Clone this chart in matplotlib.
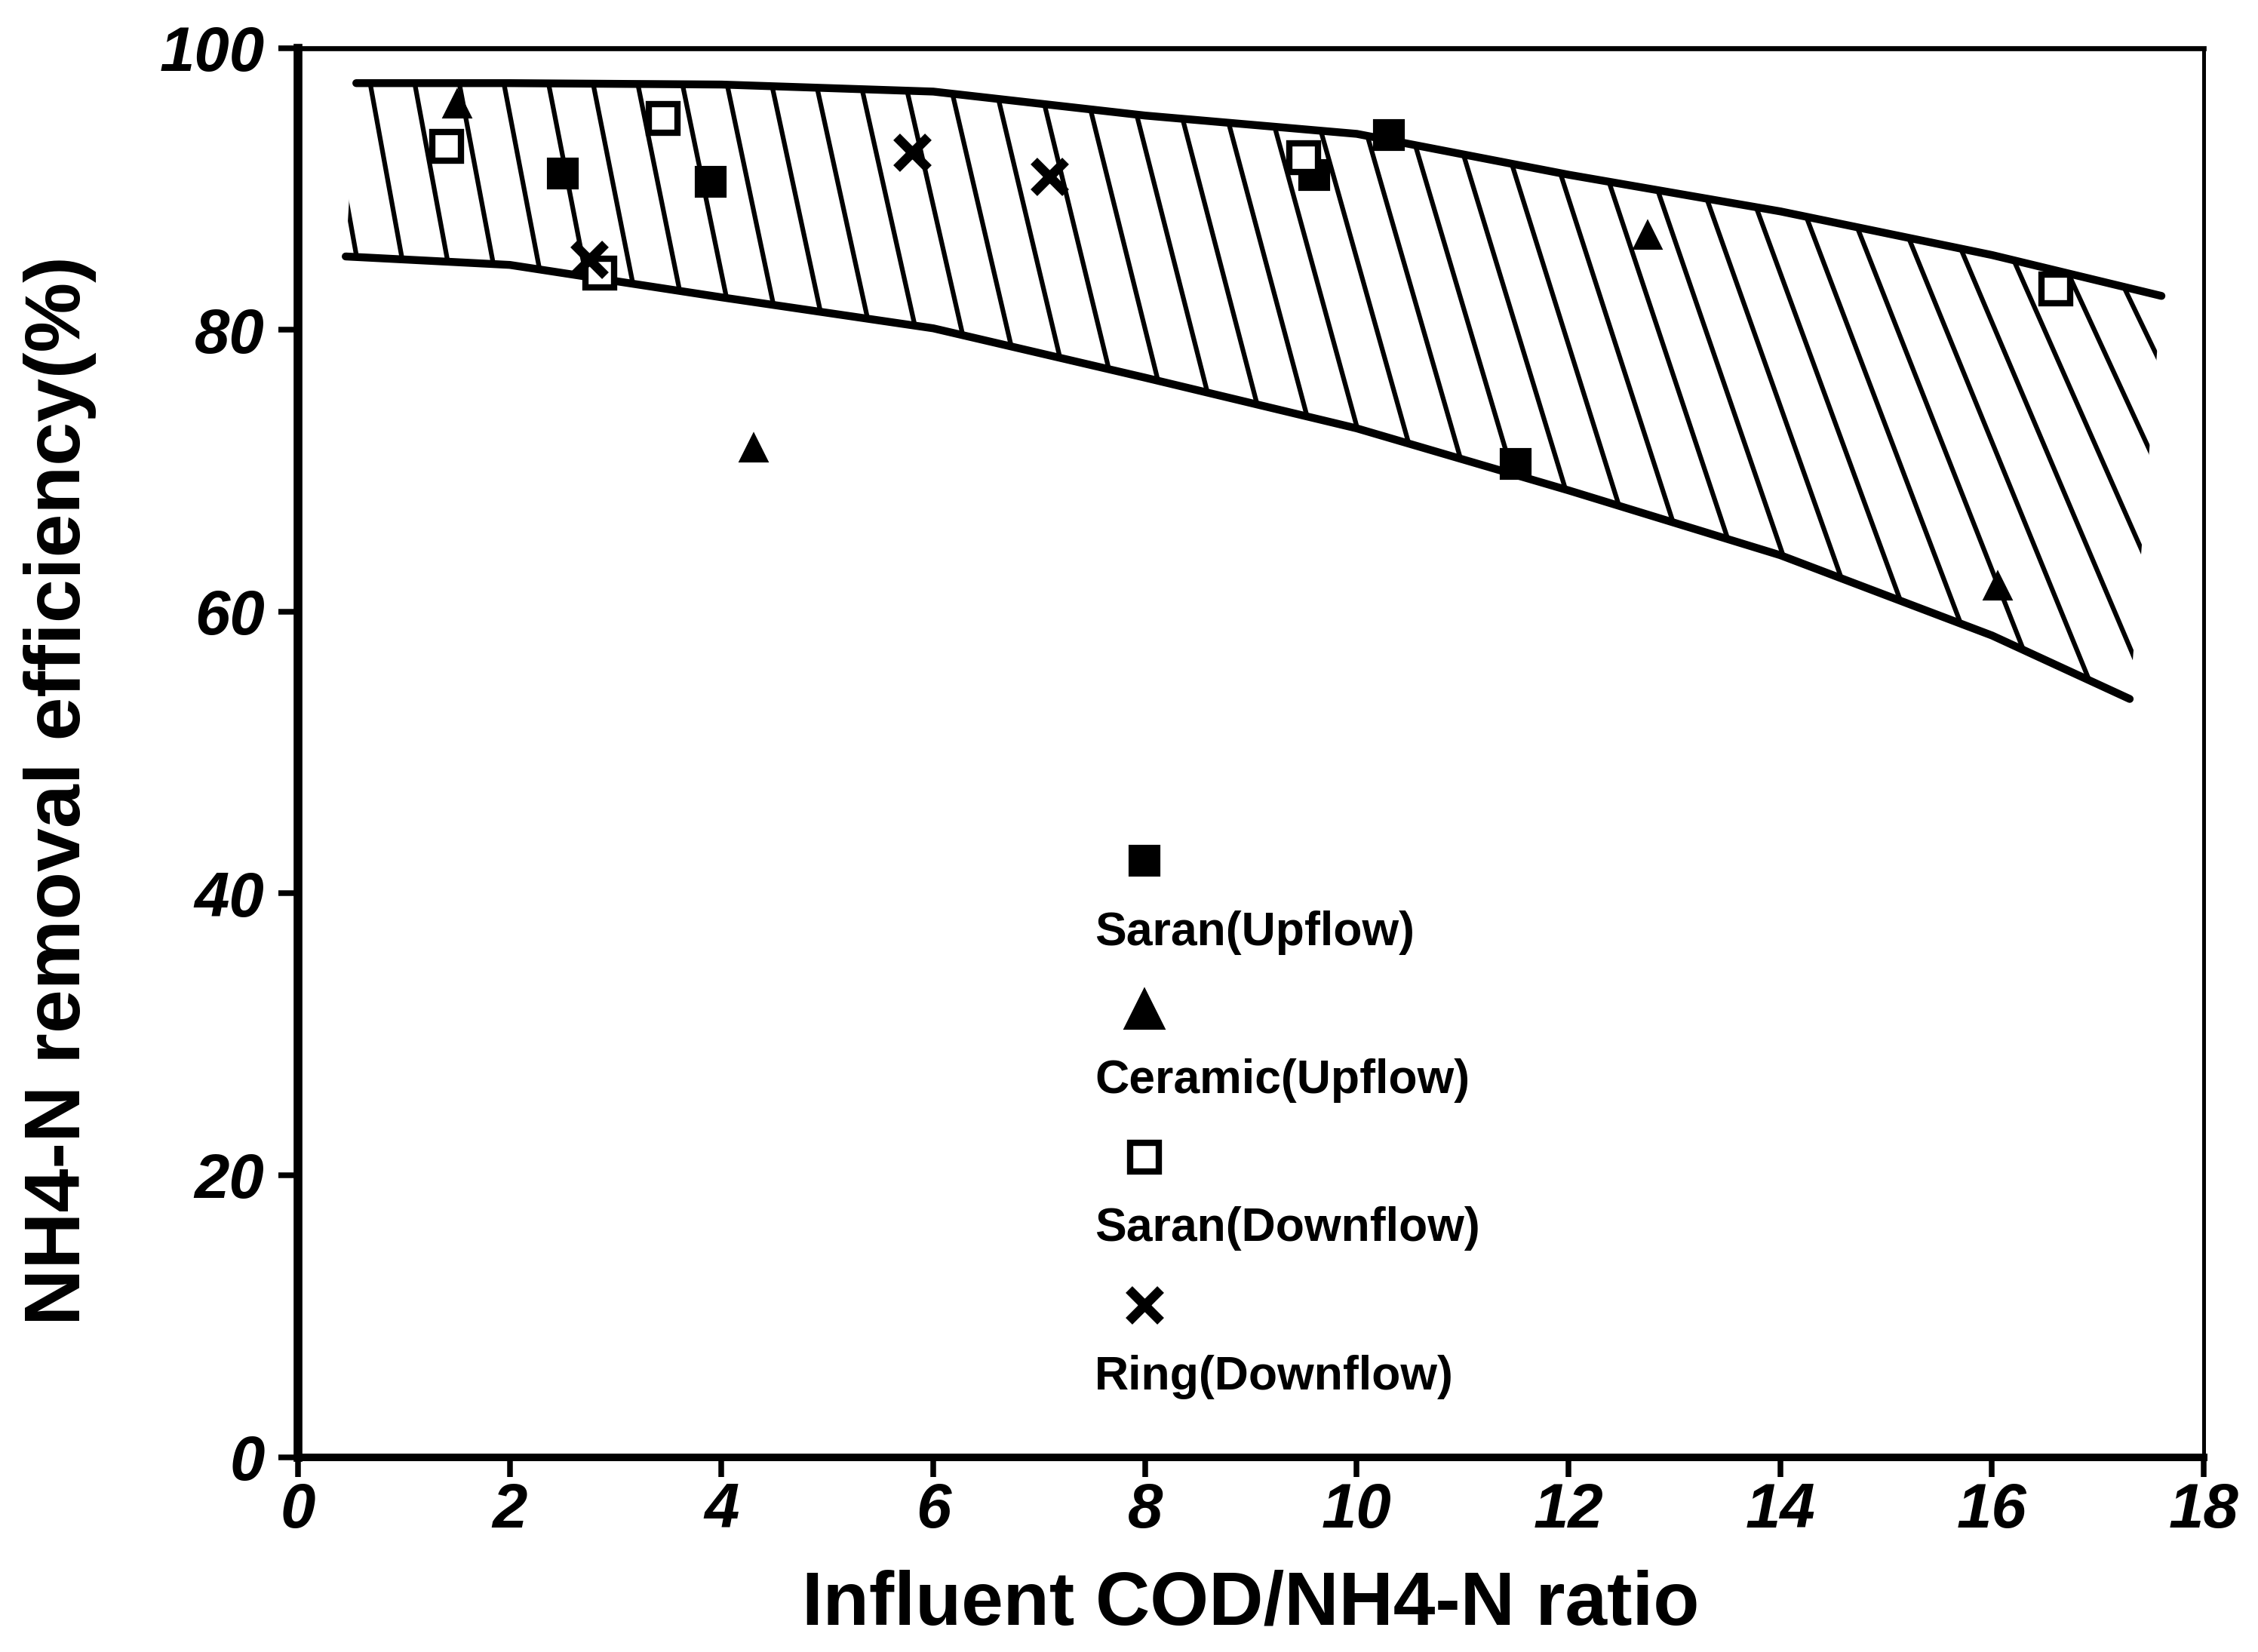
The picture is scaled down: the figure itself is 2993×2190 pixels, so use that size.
import numpy as np
import matplotlib
matplotlib.use("Agg")
import matplotlib.pyplot as plt
from matplotlib.patches import Polygon

plt.rcParams['font.family'] = ['Liberation Sans', 'DejaVu Sans']
plt.rcParams['font.weight'] = 'bold'

# data
saran_up_x = [2.5, 3.9, 9.6, 10.3, 11.5]
saran_up_y = [91.1, 90.5, 91.0, 93.8, 70.5]
ceramic_up_x = [1.5, 4.3, 12.75, 16.05]
ceramic_up_y = [96.0, 71.6, 86.7, 61.8]
saran_down_x = [1.4, 2.85, 3.45, 9.5, 16.6]
saran_down_y = [93.0, 84.0, 95.0, 92.2, 82.9]
ring_down_x = [2.75, 5.8, 7.1]
ring_down_y = [85.0, 92.6, 90.9]

# band limits
upper_x = [0.55, 2, 4, 6, 8, 10, 12, 14, 16, 17.6]
upper_y = [97.5, 97.5, 97.4, 96.9, 95.2, 93.9, 91.0, 88.4, 85.3, 82.4]
lower_x = [0.45, 2, 4, 6, 8, 10, 12, 14, 16, 17.3]
lower_y = [85.2, 84.6, 82.3, 80.1, 76.6, 73.0, 68.6, 64.0, 58.3, 53.8]

labels = ['Saran(Upflow)', 'Ceramic(Upflow)', 'Saran(Downflow)', 'Ring(Downflow)']

fig = plt.figure(figsize=(2993 / 300, 2190 / 300), dpi=300)
ax = fig.add_axes([0.132, 0.118, 0.844, 0.853])
ax.set_xlim(0, 18)
ax.set_ylim(0, 100)

# hatched band (hand-drawn look: lines lean more towards the right)
verts = list(zip(upper_x, upper_y)) + list(zip(lower_x[::-1], lower_y[::-1]))
band = Polygon(verts, closed=True, facecolor='none', edgecolor='none')
ax.add_patch(band)
for x0 in np.arange(0.2, 18.2, 0.42):
    ratio = max(5.2 - 0.22 * (x0 - 2), 1.8)   # pixel dy/dx of the stroke
    s = ratio * 7.5                           # in data units
    ln, = ax.plot([x0, x0 + 100 / s], [100, 0], color='black', lw=1.5)
    ln.set_clip_path(band)
ax.plot(upper_x, upper_y, color='black', lw=2.5, solid_capstyle='round')
ax.plot(lower_x, lower_y, color='black', lw=2.5, solid_capstyle='round')

# data points
ax.plot(saran_up_x, saran_up_y, 's', color='black', ms=9, zorder=5)
ax.plot(ceramic_up_x, ceramic_up_y, '^', color='black', ms=8, zorder=5)
ax.plot(saran_down_x, saran_down_y, 's', mfc='white', mec='black', mew=2, ms=9, zorder=5)
ax.plot(ring_down_x, ring_down_y, 'x', color='black', mew=3, ms=10, zorder=5)

# legend: marker above label
styles = [dict(marker='s', color='black', ms=9),
          dict(marker='^', color='black', ms=12),
          dict(marker='s', mfc='white', mec='black', mew=2, ms=9),
          dict(marker='x', color='black', mew=3, ms=10)]
for i, (lab, st) in enumerate(zip(labels, styles)):
    y0 = 0.423 - i * 0.105
    ax.plot([0.444], [y0], transform=ax.transAxes, ls='none', **st)
    ax.text(0.418, y0 - 0.051, lab, transform=ax.transAxes, fontsize=15,
            fontweight='bold', va='center', ha='left')

# axes styling
ax.spines['left'].set_linewidth(2.8)
ax.spines['bottom'].set_linewidth(2.4)
ax.spines['top'].set_linewidth(1.6)
ax.spines['right'].set_linewidth(1.2)
ax.set_xticks(range(0, 19, 2))
ax.set_yticks(range(0, 101, 20))
ax.tick_params(direction='out', length=6.2, width=1.8, labelsize=20)
ax.tick_params(axis='x', pad=1.5)
ax.tick_params(axis='y', pad=4.5)
for t in ax.get_xticklabels() + ax.get_yticklabels():
    t.set_fontstyle('italic')
    t.set_fontweight('bold')

ax.set_xlabel('Influent COD/NH4-N ratio', fontsize=24, fontweight='bold', va='center')
ax.xaxis.set_label_coords(0.5, -0.105)
ax.set_ylabel('NH4-N removal efficiency(%)', fontsize=25, fontweight='bold', va='center')
ax.yaxis.set_label_coords(-0.125, 0.473)

fig.savefig('out.png', dpi=300)
